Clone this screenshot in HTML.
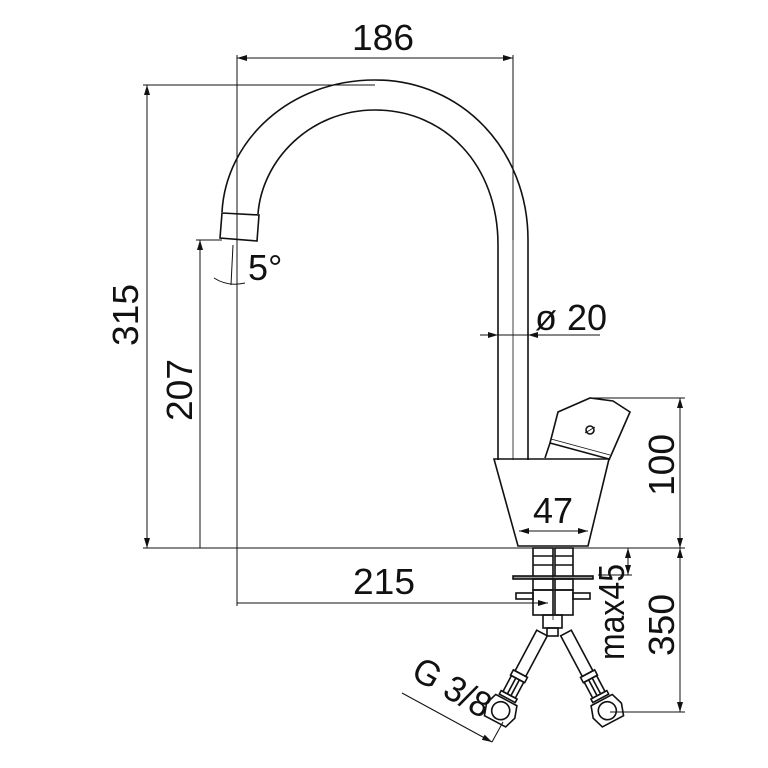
<!DOCTYPE html>
<html><head><style>body{margin:0;background:#fff}svg{display:block}text{font-family:"Liberation Sans",sans-serif;fill:#111}</style></head><body>
<svg width="768" height="768" viewBox="0 0 768 768" xmlns="http://www.w3.org/2000/svg">
<defs><marker id="a" viewBox="0 0 10 6" refX="10" refY="3" markerWidth="10" markerHeight="6" orient="auto-start-reverse" markerUnits="userSpaceOnUse"><path d="M0,0L10,3L0,6z" fill="#111"/></marker></defs>
<g fill="none" stroke="#111" stroke-width="1.6">
<path d="M222,212 C226,140 290,80 375,80 C462,80 528,150 528,240 L528,460"/>
<path d="M258,214 C262,160 310,110 375,110 C445,110 498,165 498,245 L498,460"/>
<line x1="513" y1="240" x2="513" y2="460" stroke-width="0.8"/>
<path d="M222,213 L259,215 L257,241 L220,238 Z"/>
<path d="M494,459 L609,459 L588,546 L518,546 Z"/>
<path d="M545,458 L550,443 L558,412 L590,398 L613,401 L630,412 L609,460"/>
<path d="M550,443 L609,459"/>
<path d="M551,439 L610,455" stroke-width="0.8"/>
<circle cx="590" cy="430" r="4"/>
<line x1="585" y1="433" x2="595" y2="427" stroke-width="0.8"/>
<rect x="533" y="548" width="20" height="29"/><rect x="555" y="548" width="18" height="29"/>
<line x1="533" y1="556" x2="553" y2="556"/><line x1="555" y1="556" x2="573" y2="556"/>
<line x1="533" y1="565" x2="553" y2="565"/><line x1="555" y1="565" x2="573" y2="565"/>
<rect x="513" y="576" width="80" height="3" fill="#999"/>
<rect x="533" y="579" width="20" height="11"/><rect x="555" y="579" width="18" height="11"/>
<rect x="533" y="590" width="20" height="25"/><rect x="555" y="590" width="18" height="25"/>
<rect x="516" y="593" width="17" height="6"/><rect x="573" y="593" width="17" height="6"/>
<line x1="553" y1="548" x2="553" y2="620" stroke-width="0.8"/>
<rect x="543" y="615" width="19" height="13"/><rect x="547" y="628" width="11" height="8"/>
<g transform="translate(542,633) rotate(28)"><rect x="-6" y="0" width="12" height="46"/><rect x="-8" y="46" width="16" height="6"/><rect x="-7" y="52" width="14" height="18"/><line x1="-2" y1="52" x2="-2" y2="70"/><line x1="2" y1="52" x2="2" y2="70"/><rect x="-9" y="70" width="18" height="4"/><path d="M-12,76 L12,76 L16,88 L12,100 L-12,100 L-16,88 Z"/><circle cx="0" cy="88" r="9"/></g>
<g transform="translate(566,633) rotate(-28)"><rect x="-6" y="0" width="12" height="46"/><rect x="-8" y="46" width="16" height="6"/><rect x="-7" y="52" width="14" height="18"/><line x1="-2" y1="52" x2="-2" y2="70"/><line x1="2" y1="52" x2="2" y2="70"/><rect x="-9" y="70" width="18" height="4"/><path d="M-12,76 L12,76 L16,88 L12,100 L-12,100 L-16,88 Z"/><circle cx="0" cy="88" r="9"/></g>
</g>
<g fill="none" stroke="#111" stroke-width="1">
<line x1="237" y1="55" x2="237" y2="606"/>
<line x1="513" y1="55" x2="513" y2="240"/>
<line x1="143" y1="85" x2="375" y2="85"/>
<line x1="143" y1="548" x2="685" y2="548"/>
<line x1="196" y1="240" x2="222" y2="240"/>
<line x1="590" y1="398" x2="685" y2="398"/>
<line x1="610" y1="712" x2="685" y2="712"/>
<line x1="598" y1="575" x2="632" y2="575"/>
<line x1="498" y1="335" x2="600" y2="335"/>
<line x1="237" y1="58" x2="513" y2="58" marker-start="url(#a)" marker-end="url(#a)"/>
<line x1="147" y1="85" x2="147" y2="548" marker-start="url(#a)" marker-end="url(#a)"/>
<line x1="200" y1="240" x2="200" y2="548" marker-start="url(#a)"/>
<line x1="237" y1="603" x2="548" y2="603" marker-end="url(#a)"/>
<line x1="680" y1="398" x2="680" y2="548" marker-start="url(#a)" marker-end="url(#a)"/>
<line x1="680" y1="548" x2="680" y2="712" marker-start="url(#a)" marker-end="url(#a)"/>
<line x1="628" y1="548" x2="628" y2="575" marker-start="url(#a)" marker-end="url(#a)"/>
<line x1="519" y1="531" x2="588" y2="531" marker-start="url(#a)" marker-end="url(#a)"/>
<line x1="480" y1="335" x2="498" y2="335" marker-end="url(#a)"/>
<line x1="546" y1="335" x2="528" y2="335" marker-end="url(#a)"/>
<line x1="402" y1="693" x2="492" y2="742" marker-end="url(#a)"/>
<line x1="492" y1="742" x2="503" y2="722"/>
<line x1="233" y1="245" x2="231" y2="285"/>
<path d="M214,278 Q228,287 245,283"/>
</g>
<g font-size="36">
<text x="383" y="50" text-anchor="middle" textLength="62" lengthAdjust="spacingAndGlyphs">186</text>
<text x="384" y="594" text-anchor="middle" textLength="62" lengthAdjust="spacingAndGlyphs">215</text>
<text x="553" y="523" text-anchor="middle">47</text>
<text x="535" y="330">ø 20</text>
<text x="248" y="280">5°</text>
<text transform="translate(138,315) rotate(-90)" text-anchor="middle" textLength="62" lengthAdjust="spacingAndGlyphs">315</text>
<text transform="translate(192,390) rotate(-90)" text-anchor="middle" textLength="62" lengthAdjust="spacingAndGlyphs">207</text>
<text transform="translate(674,465) rotate(-90)" text-anchor="middle" textLength="62" lengthAdjust="spacingAndGlyphs">100</text>
<text transform="translate(674,625) rotate(-90)" text-anchor="middle" textLength="62" lengthAdjust="spacingAndGlyphs">350</text>
<text transform="translate(624,612) rotate(-90)" text-anchor="middle" textLength="96" lengthAdjust="spacingAndGlyphs">max45</text>
<text transform="translate(446,698) rotate(30)" text-anchor="middle" textLength="84" lengthAdjust="spacingAndGlyphs">G 3/8</text>
</g>
</svg>
</body></html>
